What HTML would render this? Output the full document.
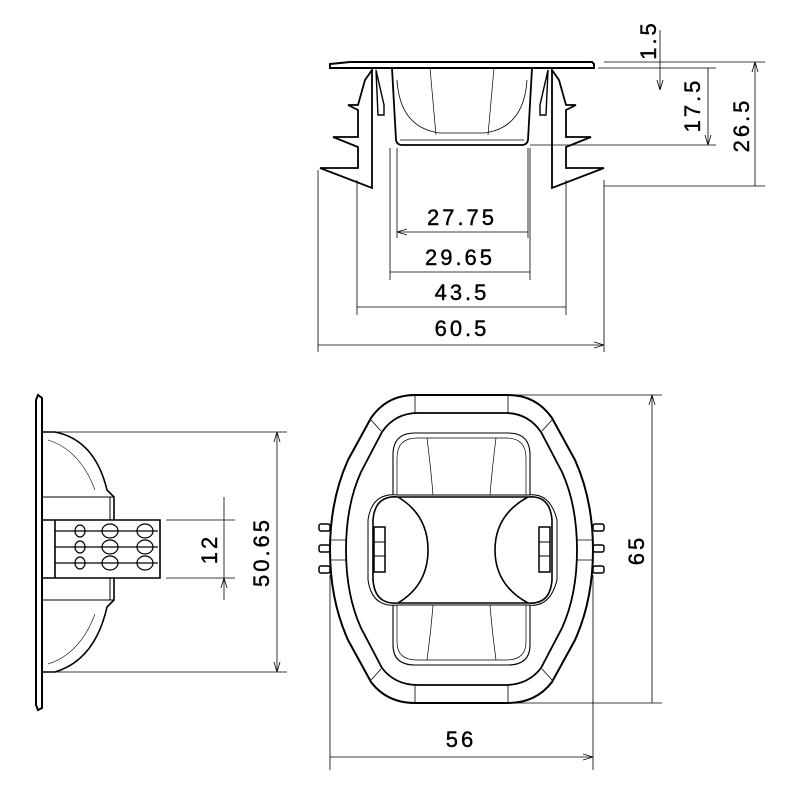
<!DOCTYPE html>
<html><head><meta charset="utf-8"><style>html,body{margin:0;padding:0;background:#fff}svg{display:block}text{font-family:"Liberation Sans",sans-serif;font-size:22px;fill:#000;letter-spacing:3px;stroke:#000;stroke-width:0.4}</style></head><body>
<svg width="800" height="800" viewBox="0 0 800 800" xmlns="http://www.w3.org/2000/svg">
<defs><marker id="a" markerWidth="10" markerHeight="8" refX="10" refY="4" orient="auto-start-reverse" markerUnits="userSpaceOnUse"><path d="M0,1 L10,4 L0,7" fill="none" stroke="#000" stroke-width="0.8"/></marker></defs>
<g fill="none" stroke="#000">
<!-- TOP VIEW -->
<path d="M330,64 L350,62 L592,62 L594,64 L594,68 L330,68 Z" stroke-width="2"/>
<path d="M392,68 L396,140 Q397,145 402,145 L522,145 Q527,145 528,140 L532,68" stroke-width="1.8"/>
<path d="M397,80 Q400,128 440,133 L484,133 Q524,128 527,80" stroke-width="0.8"/>
<path d="M430,68 L436,135 M494,68 L488,135 M400,140 L524,140" stroke-width="0.7"/>
<path d="M372,70 L372,188 L320,168 L358,168 L358,147 L333,137 L358,137 L358,110 L348,105 L358,105 L365,80 Z" stroke-width="1.8"/>
<path d="M376,70 L384,105 L384,115 L378,115 Z" stroke-width="1.4"/>
<path d="M552,70 L552,188 L604,168 L566,168 L566,147 L591,137 L566,137 L566,110 L576,105 L566,105 L559,80 Z" stroke-width="1.8"/>
<path d="M548,70 L540,105 L540,115 L546,115 Z" stroke-width="1.4"/>
<g stroke-width="0.8">
<path d="M397,148 L397,238 M528,148 L528,238 M390,148 L390,280 M530,148 L530,280 M357,180 L357,315 M566,180 L566,315 M318,170 L318,352 M604,180 L604,352"/>
<path d="M397,232 L528,232 M390,272 L530,272 M357,307 L566,307 M318,345 L604,345" marker-start="url(#a)" marker-end="url(#a)"/>
<path d="M604,62 L765,62 M598,68 L716,68 M530,145 L716,145 M604,186 L765,186"/>
<path d="M755,62 L755,186 M708,68 L708,145" marker-start="url(#a)" marker-end="url(#a)"/>
<path d="M660,30 L660,62 M660,68 L660,90" marker-end="url(#a)"/>
<path d="M660,62 L660,68"/>
</g>
<!-- SIDE VIEW -->
<path d="M38,395 L42,398 L42,708 L38,710 L36,705 L36,400 Z" stroke-width="2"/>
<path d="M42,432 L55,432 Q95,440 107,490 L114,497 L114,520 M114,578 L114,600 L107,607 Q95,660 55,672 L42,672" stroke-width="1.6"/>
<path d="M42,497 L114,497 M42,600 L114,600 M110,497 L110,520 M110,578 L110,600" stroke-width="1"/>
<path d="M42,520 L160,520 L160,578 L42,578 M55,520 L55,578" stroke-width="1.6"/>
<g stroke-width="1.2">
<path d="M55,531 L158,531 M55,547 L158,547 M55,563 L158,563"/>
<ellipse cx="80" cy="531" rx="5" ry="6"/><ellipse cx="110" cy="531" rx="8" ry="7"/><ellipse cx="145" cy="531" rx="8" ry="7"/>
<ellipse cx="80" cy="547" rx="5" ry="6"/><ellipse cx="110" cy="547" rx="8" ry="7"/><ellipse cx="145" cy="547" rx="8" ry="7"/>
<ellipse cx="80" cy="563" rx="5" ry="6"/><ellipse cx="110" cy="563" rx="8" ry="7"/><ellipse cx="145" cy="563" rx="8" ry="7"/>
</g>
<path d="M48,440 Q80,450 95,490 M48,664 Q80,654 95,614" stroke-width="0.6"/>
<g stroke-width="0.8">
<path d="M55,432 L287,432 M55,672 L287,672 M166,520 L235,520 M166,578 L235,578"/>
<path d="M277,432 L277,672" marker-start="url(#a)" marker-end="url(#a)"/>
<path d="M224,497 L224,520 M224,600 L224,578" marker-end="url(#a)"/>
<path d="M224,520 L224,578"/>
</g>
<!-- BOTTOM VIEW -->
<path d="M415,395 L508,395 Q536,395 552,418 L575,460 Q593,500 593,550 Q593,600 575,640 L552,682 Q536,703 508,703 L415,703 Q387,703 371,682 L348,640 Q330,600 330,550 Q330,500 348,460 L371,418 Q387,395 415,395 Z" stroke-width="2"/>
<path d="M418,413 L505,413 Q528,413 541,432 L562,472 Q577,505 577,550 Q577,595 562,628 L541,668 Q528,685 505,685 L418,685 Q395,685 382,668 L361,628 Q346,595 346,550 Q346,505 361,472 L382,432 Q395,413 418,413 Z" stroke-width="1.8"/>
<path d="M415,395 L415,413 M508,395 L508,413 M415,685 L415,703 M508,685 L508,703 M330,540 L346,540 M330,560 L346,560 M577,540 L593,540 M577,560 L593,560 M371,420 L381,431 M552,420 L542,431 M371,680 L381,669 M552,680 L542,669" stroke-width="0.8"/>
<path d="M393,495 L393,455 Q393,433 415,433 L508,433 Q530,433 530,455 L530,495 M393,605 L393,645 Q393,665 415,665 L508,665 Q530,665 530,645 L530,605" stroke-width="1.1"/>
<path d="M397,495 L397,458 Q397,438 417,438 L506,438 Q526,438 526,458 L526,495 M397,605 L397,642 Q397,660 417,660 L506,660 Q526,660 526,642 L526,605 M427,438 Q431,470 433,495 M496,438 Q492,470 490,495 M427,660 Q431,630 433,605 M496,660 Q492,630 490,605" stroke-width="0.7"/>
<path d="M398,495 L528,495 Q550,492 557,520 L557,580 Q550,608 528,605 L398,605 Q372,608 368,580 L368,520 Q372,492 398,495 Z" stroke-width="1"/>
<path d="M398,497 L528,497 M398,603 L528,603 M398,497 Q375,495 373,520 L373,580 Q375,605 398,603 M528,497 Q550,495 552,520 L552,580 Q550,605 528,603" stroke-width="1.6"/>
<path d="M398,497 Q428,515 428,550 Q428,585 398,603 M528,497 Q495,515 495,550 Q495,585 528,603" stroke-width="1.6"/>
<rect x="374" y="527" width="11" height="45" stroke-width="1.5"/><path d="M374,542 L385,542 M374,556 L385,556" stroke-width="1"/>
<rect x="539" y="527" width="11" height="45" stroke-width="1.5"/><path d="M539,542 L550,542 M539,556 L550,556" stroke-width="1"/>
<g stroke-width="1.5"><rect x="319" y="524" width="11" height="7" rx="2"/><rect x="319" y="545" width="11" height="7" rx="2"/><rect x="319" y="566" width="11" height="7" rx="2"/>
<rect x="593" y="524" width="11" height="7" rx="2"/><rect x="593" y="545" width="11" height="7" rx="2"/><rect x="593" y="566" width="11" height="7" rx="2"/></g>
<g stroke-width="0.8">
<path d="M508,395 L662,395 M508,703 L662,703 M330,575 L330,770 M593,575 L593,770"/>
<path d="M652,395 L652,703 M330,757 L593,757" marker-start="url(#a)" marker-end="url(#a)"/>
</g>
</g>
<text x="462" y="225" text-anchor="middle">27.75</text>
<text x="460" y="265" text-anchor="middle">29.65</text>
<text x="462" y="300" text-anchor="middle">43.5</text>
<text x="462" y="336" text-anchor="middle">60.5</text>
<text transform="translate(656,40) rotate(-90)" text-anchor="middle">1.5</text>
<text transform="translate(700,105) rotate(-90)" text-anchor="middle">17.5</text>
<text transform="translate(749,125) rotate(-90)" text-anchor="middle">26.5</text>
<text transform="translate(217,549) rotate(-90)" text-anchor="middle">12</text>
<text transform="translate(269,552) rotate(-90)" text-anchor="middle">50.65</text>
<text transform="translate(644,550) rotate(-90)" text-anchor="middle">65</text>
<text x="461" y="747" text-anchor="middle">56</text>
</svg>
</body></html>
